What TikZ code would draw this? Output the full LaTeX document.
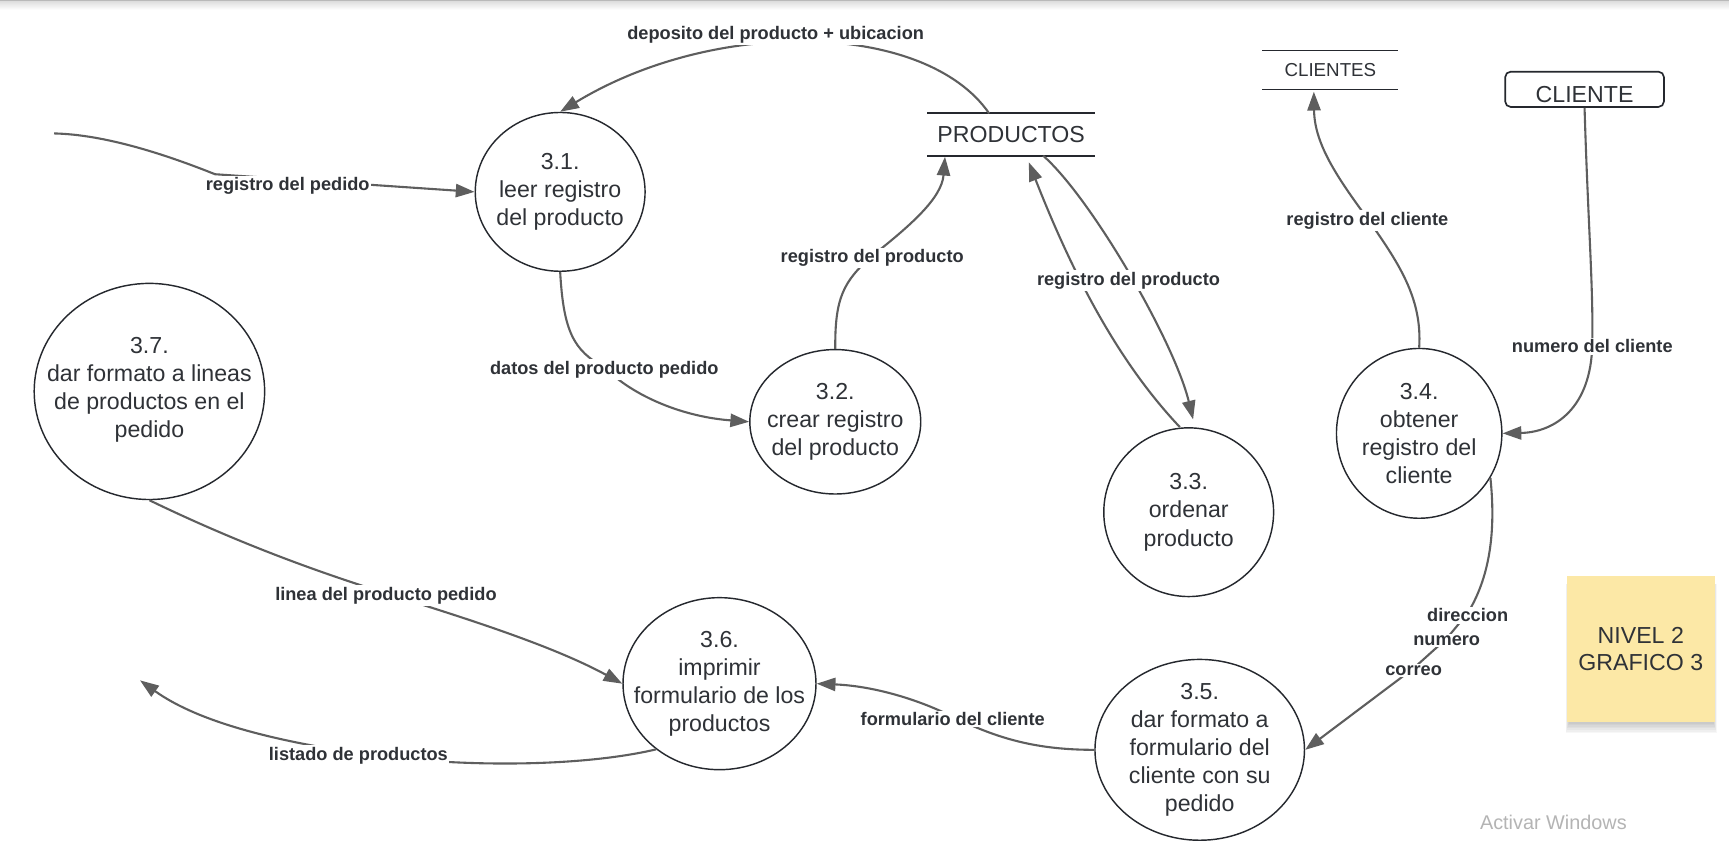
\documentclass[tikz,border=0pt]{standalone}
\usepackage{fontspec}
\setmainfont{Liberation Sans}
\usetikzlibrary{shapes.geometric,arrows.meta}
\definecolor{lcol}{HTML}{5E5E5E}
\definecolor{ecol}{HTML}{25282E}
\definecolor{tcol}{HTML}{2F3237}
\definecolor{notecol}{HTML}{FCE8A6}
\definecolor{wincol}{HTML}{B4B4B4}
\begin{document}
\begin{tikzpicture}[x=1pt,y=-1pt,
  proc/.style={ellipse, draw=ecol, line width=1.3pt, inner sep=0pt},
  proctext/.style={align=center, font=\fontsize{21}{25.5}\selectfont, text=tcol, inner sep=0pt},
  flow/.style={draw=lcol, line width=1.9pt, -{Triangle[length=17pt,width=12pt]}},
  lbl/.style={fill=white, inner sep=1.5pt, yshift=-2pt, font=\fontsize{16.5}{19}\selectfont\bfseries, text=tcol},
  storebox/.style={inner sep=0pt, text=tcol},
  storeline/.style={draw=ecol, line width=1.7pt}]
\useasboundingbox (0,0) rectangle (1568,763);
\fill[white] (0,0) rectangle (1568,763);
\fill[gray!55] (0,0) rectangle (1568,1.3);
\shade[top color=gray!25, bottom color=white] (0,1.3) rectangle (1568,9);

% processes
\node[proc, minimum width=154, minimum height=144, label={[proctext]center:3.1.\\leer registro\\del producto}] (n31) at (508,174) {};
\node[proc, minimum width=155, minimum height=131, label={[proctext]center:3.2.\\crear registro\\del producto}] (n32) at (757.5,382.5) {};
\node[proc, minimum width=154, minimum height=153, label={[proctext]center:3.3.\\ordenar\\producto}] (n33) at (1078,464.5) {};
\node[proc, minimum width=150, minimum height=154, label={[proctext]center:3.4.\\obtener\\registro del\\cliente}] (n34) at (1287,393) {};
\node[proc, minimum width=190, minimum height=164, label={[proctext]center:3.5.\\dar formato a\\formulario del\\cliente con su\\pedido}] (n35) at (1088,680) {};
\node[proc, minimum width=175, minimum height=156, label={[proctext]center:3.6.\\imprimir\\formulario de los\\productos}] (n36) at (652.5,620) {};
\node[proc, minimum width=209, minimum height=196, label={[proctext,yshift=1.5pt]center:3.7.\\dar formato a lineas\\de productos en el\\pedido}] (n37) at (135.5,355) {};

% data stores
\node[storebox, minimum width=152, minimum height=38, font=\fontsize{21}{25}\selectfont] (prod) at (917,122) {PRODUCTOS};
\draw[storeline] (prod.north west) -- (prod.north east);
\draw[storeline] (prod.south west) -- (prod.south east);
\node[storebox, minimum width=123, minimum height=35, font=\fontsize{17}{20}\selectfont] (clis) at (1206.5,63.5) {CLIENTES};
\draw[storeline] (clis.north west) -- (clis.north east);
\draw[storeline] (clis.south west) -- (clis.south east);

% external entity
\node[draw=ecol, line width=1.5pt, rounded corners=5pt, minimum width=144, minimum height=32, inner sep=0pt,
  label={[storebox, font=\fontsize{21}{25}\selectfont, yshift=-4.5pt]center:CLIENTE}] (cli) at (1437,81) {};

% sticky note with soft shadow
\foreach \i in {1,...,7}
  \fill[black, opacity=0.03] (1423-0.4*\i,530) rectangle (1554+0.4*\i,655+1.4*\i);
\node[fill=notecol, minimum width=134, minimum height=133, inner sep=0pt, align=center,
  font=\fontsize{21}{25}\selectfont, text=tcol] (note) at (1488,588.5) {NIVEL 2\\GRAFICO 3};

\node[text=wincol, font=\fontsize{18}{20}\selectfont, anchor=west, inner sep=0pt] (win) at (1342,746) {Activar Windows};

% free ends
\coordinate (s1) at (49,121);
\coordinate (e12) at (127,617);

% connectors
\draw[flow] (s1) .. controls (95,122) and (150,140) .. (195,158)
  -- node[lbl,pos=0.28,yshift=-4pt] (l1) {registro del pedido} (n31.west);

\draw[flow] ([xshift=-20pt]prod.north) .. controls (840,20) and (650,15) .. (n31.north)
  node[lbl,pos=0.57,yshift=10pt] (l2) {deposito del producto + ubicacion};

\draw[flow] (n31.south) .. controls (511,300) and (520,318) .. (548,333) node[lbl] (l3) {datos del producto pedido}
  .. controls (575,360) and (620,378) .. (n32.west);

\draw[flow] (n32.north) .. controls (757,270) and (765,255) .. (791,232) node[lbl] (l4) {registro del producto}
  .. controls (825,205) and (854,180) .. ([xshift=-60pt,yshift=-1pt]prod.south);

\draw[flow] ([xshift=29pt]prod.south) .. controls (990,180) and (1065,310) .. ([xshift=4pt,yshift=7pt]n33.north);

\draw[flow] ([xshift=-8pt]n33.north) .. controls (1030,345) and (985,280) .. ([xshift=16pt,yshift=-6pt]prod.south)
  node[lbl,pos=0.69,xshift=44pt] (l5) {registro del producto};

\draw[flow] (n34.north) .. controls (1290,270) and (1268,238) .. (1240,198) node[lbl] (l7) {registro del cliente}
  .. controls (1212,160) and (1192,130) .. ([xshift=-15pt,yshift=-2pt]clis.south);

\draw[flow] (cli.south) .. controls (1440,200) and (1445,260) .. (1444,312) node[lbl] (l8) {numero del cliente}
  .. controls (1443,370) and (1410,392) .. (n34.east);

\draw[flow] (n34.-32) .. controls (1357,485) and (1350,525) .. (1331,556) node[lbl] (l9a) {direccion}
  -- (1312,579) node[lbl] (l9b) {numero}
  -- (1282,606) node[lbl] (l9c) {correo}
  -- (n35.east);

\draw[flow] (n35.west) .. controls (940,680) and (905,670) .. (864,650) node[lbl] (l10) {formulario del cliente}
  .. controls (830,633) and (790,622) .. (n36.east);

\draw[flow] (n37.south) .. controls (190,480) and (260,510) .. (350,538) node[lbl] (l11) {linea del producto pedido}
  .. controls (420,560) and (500,585) .. (n36.west);

\draw[flow] (n36.226) .. controls (530,695) and (420,697) .. (325,683) node[lbl] (l12) {listado de productos}
  .. controls (250,672) and (180,655) .. (e12);
\end{tikzpicture}
\end{document}
